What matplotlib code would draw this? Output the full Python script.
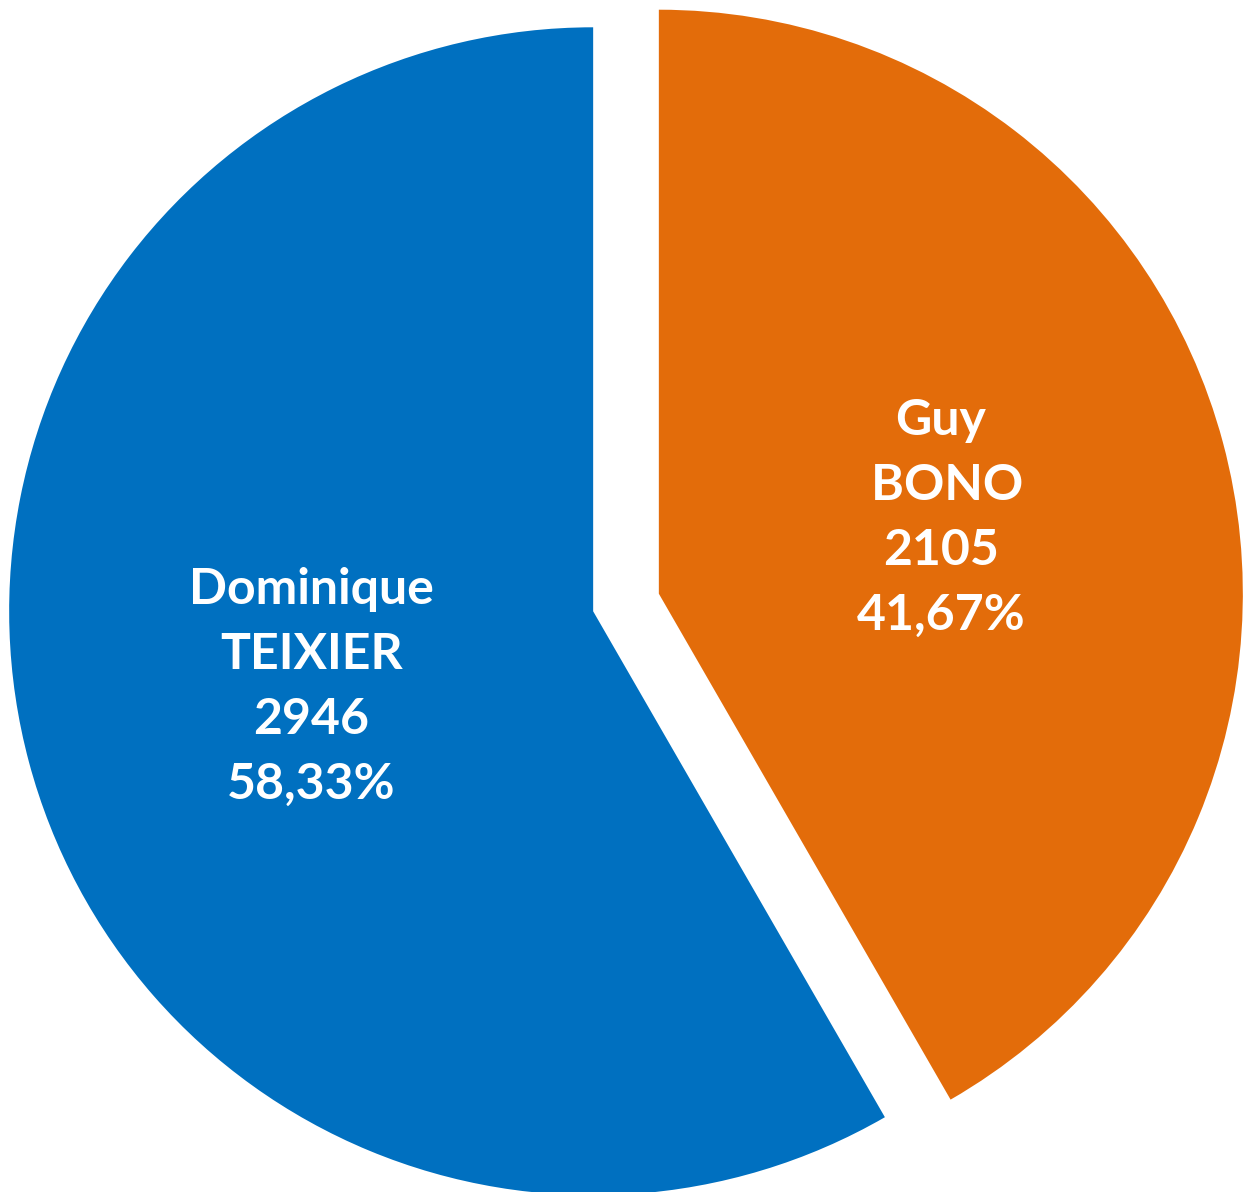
import matplotlib
matplotlib.use("Agg")
import matplotlib.pyplot as plt

names = ["Dominique\nTEIXIER", "Guy\n BONO"]
votes = [2946, 2105]
percents = ["58,33%", "41,67%"]
colors = ["#0070C0", "#E36C0A"]

W, H = 1253, 1192
fig = plt.figure(figsize=(W / 100, H / 100), dpi=100)
ax = fig.add_axes([0, 0, 1, 1])

radius = 584
gap = 34
wedges, texts, autotexts = ax.pie(
    votes, colors=colors, startangle=90, counterclock=True,
    center=(626, H - 602.5), radius=radius,
    explode=[gap, gap], autopct="%1.1f%%", pctdistance=0.5,
    frame=True, wedgeprops=dict(linewidth=0),
)
ax.set_xlim(0, W)
ax.set_ylim(0, H)
ax.set_aspect("equal")
ax.axis("off")

for t, n, v, p in zip(autotexts, names, votes, percents):
    t.set_text(f"{n}\n{v}\n{p}")
    t.set_color("white")
    t.set_fontfamily("Lato")
    t.set_fontweight("bold")
    t.set_fontsize(36)
    t.set_linespacing(1.54)
    t.set_ha("center")
    t.set_va("center")
    t.set_multialignment("center")

fig.savefig("out.png", dpi=100, facecolor="white")
